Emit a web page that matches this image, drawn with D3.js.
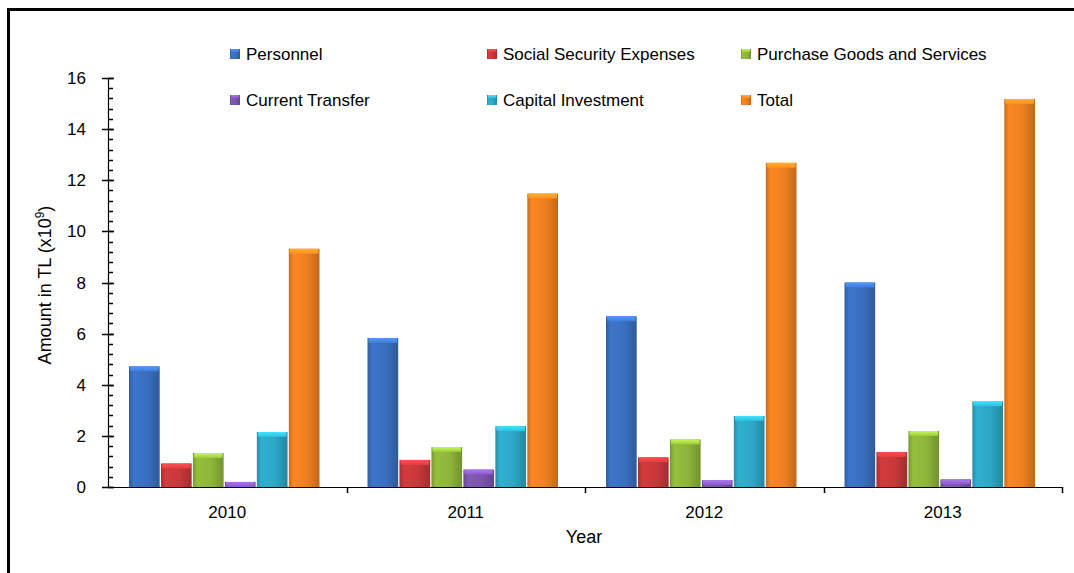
<!DOCTYPE html>
<html>
<head>
<meta charset="utf-8">
<script src="https://cdn.jsdelivr.net/npm/d3@7"></script>
<style>
  html, body { margin: 0; padding: 0; background: #fff; }
  svg { display: block; }
  text { font-family: "Liberation Sans", Arial, sans-serif; fill: #000; }
</style>
</head>
<body>
<svg id="chart" width="1074" height="573"></svg>
<script>
const years = ["2010", "2011", "2012", "2013"];
const seriesNames = ["Personnel", "Social Security Expenses", "Purchase Goods and Services", "Current Transfer", "Capital Investment", "Total"];
const personnel = [4.72, 5.83, 6.68, 8.0];
const socialSecurity = [0.92, 1.06, 1.16, 1.37];
const purchaseGoods = [1.33, 1.56, 1.86, 2.19];
const currentTransfer = [0.2, 0.68, 0.27, 0.3];
const capitalInvestment = [2.15, 2.38, 2.78, 3.35];
const total = [9.32, 11.48, 12.68, 15.18];
const yTicks = [0, 2, 4, 6, 8, 10, 12, 14, 16];
const colors = ["#3a6fbf", "#c8383a", "#8db53a", "#7d54b0", "#2da7c6", "#ee8020"];

const seriesValues = [personnel, socialSecurity, purchaseGoods, currentTransfer, capitalInvestment, total];

const svg = d3.select("#chart");
const pLeft = 108, pRight = 1062, pTop = 78, pBottom = 487;

// frame
svg.append("line").attr("x1", 8.5).attr("x2", 8.5).attr("y1", 8).attr("y2", 573)
  .attr("stroke", "#000").attr("stroke-width", 3);
svg.append("line").attr("x1", 7).attr("x2", 1074).attr("y1", 9.5).attr("y2", 9.5)
  .attr("stroke", "#000").attr("stroke-width", 3);

const x0 = d3.scaleBand().domain(years).range([pLeft, pRight]).paddingInner(0).paddingOuter(0);
const x1 = d3.scaleBand().domain(seriesNames).range([21, x0.bandwidth() - 27]).paddingInner(0.04);
const y = d3.scaleLinear().domain([0, 16]).range([pBottom, pTop]);

// gradients
const defs = svg.append("defs");
colors.forEach((c, i) => {
  const g = defs.append("linearGradient").attr("id", "g" + i).attr("x1", "0").attr("x2", "1").attr("y1", "0").attr("y2", "0");
  const base = d3.color(c);
  g.append("stop").attr("offset", "0%").attr("stop-color", base.darker(0.5));
  g.append("stop").attr("offset", "15%").attr("stop-color", base.brighter(0.15));
  g.append("stop").attr("offset", "60%").attr("stop-color", base);
  g.append("stop").attr("offset", "100%").attr("stop-color", base.darker(0.6));
  const t = defs.append("linearGradient").attr("id", "t" + i).attr("x1", "0").attr("x2", "0").attr("y1", "0").attr("y2", "1");
  t.append("stop").attr("offset", "0%").attr("stop-color", base.brighter(0.9));
  t.append("stop").attr("offset", "100%").attr("stop-color", base.brighter(0.3));
});

// bars
const groups = svg.append("g").selectAll("g").data(years).join("g")
  .attr("transform", d => `translate(${x0(d)},0)`);
groups.each(function (yr, yi) {
  const g = d3.select(this);
  seriesNames.forEach((s, si) => {
    const v = seriesValues[si][yi];
    const bx = x1(s), bw = x1.bandwidth();
    const by = y(v), bh = y(0) - y(v);
    g.append("rect").attr("x", bx).attr("y", by).attr("width", bw).attr("height", bh)
      .attr("fill", `url(#g${si})`);
    const cap = Math.min(5, bh);
    g.append("rect").attr("x", bx + 1).attr("y", by).attr("width", bw - 2).attr("height", cap)
      .attr("fill", `url(#t${si})`).attr("rx", 1);
  });
});

// y axis
const yAxis = svg.append("g");
yAxis.append("line").attr("x1", pLeft + 0.5).attr("x2", pLeft + 0.5).attr("y1", pTop).attr("y2", pBottom)
  .attr("stroke", "#000").attr("stroke-width", 1.2);
const minor = d3.range(0, 16.001, 0.4);
yAxis.selectAll("line.minor").data(minor).join("line").attr("class", "minor")
  .attr("x1", pLeft).attr("x2", pLeft + 5)
  .attr("y1", d => Math.round(y(d)) + 0.5).attr("y2", d => Math.round(y(d)) + 0.5)
  .attr("stroke", "#000").attr("stroke-width", 1.5);
yAxis.selectAll("line.major").data(yTicks).join("line").attr("class", "major")
  .attr("x1", pLeft - 6).attr("x2", pLeft + 6)
  .attr("y1", d => Math.round(y(d)) + 0.5).attr("y2", d => Math.round(y(d)) + 0.5)
  .attr("stroke", "#000").attr("stroke-width", 1.5);
yAxis.selectAll("text").data(yTicks).join("text")
  .attr("x", 86).attr("y", d => y(d)).attr("dy", "0.36em")
  .attr("text-anchor", "end").attr("font-size", 17).text(d => d);

// x axis
const xAxis = svg.append("g");
xAxis.append("line").attr("x1", pLeft).attr("x2", pRight).attr("y1", pBottom + 0.5).attr("y2", pBottom + 0.5)
  .attr("stroke", "#000").attr("stroke-width", 1.2);
const seps = years.map(d => x0(d) + x0.bandwidth());
xAxis.selectAll("line.sep").data(seps).join("line").attr("class", "sep")
  .attr("x1", d => Math.round(d) + 0.5).attr("x2", d => Math.round(d) + 0.5)
  .attr("y1", pBottom).attr("y2", pBottom + 6)
  .attr("stroke", "#000").attr("stroke-width", 1.5);
xAxis.selectAll("text").data(years).join("text")
  .attr("x", d => x0(d) + x0.bandwidth() / 2).attr("y", 518)
  .attr("text-anchor", "middle").attr("font-size", 17).text(d => d);

// axis titles
svg.append("text").attr("x", 584).attr("y", 543).attr("text-anchor", "middle")
  .attr("font-size", 18).text("Year");
const yt = svg.append("text").attr("transform", "translate(51,285) rotate(-90)")
  .attr("text-anchor", "middle").attr("font-size", 18);
yt.append("tspan").text("Amount in TL (x10");
yt.append("tspan").attr("font-size", 12).attr("dy", -7).text("9");
yt.append("tspan").attr("dy", 7).text(")");

// legend
const legendPos = [[230, 54], [487, 54], [741, 54], [230, 100], [487, 100], [741, 100]];
const leg = svg.append("g");
seriesNames.forEach((s, i) => {
  const [lx, ly] = legendPos[i];
  leg.append("rect").attr("x", lx).attr("y", ly - 5).attr("width", 10).attr("height", 10)
    .attr("fill", `url(#g${i})`);
  leg.append("rect").attr("x", lx + 1).attr("y", ly - 5).attr("width", 8).attr("height", 3)
    .attr("fill", `url(#t${i})`);
  leg.append("text").attr("x", lx + 16).attr("y", ly).attr("dy", "0.36em")
    .attr("font-size", 17).text(s);
});
</script>
</body>
</html>
